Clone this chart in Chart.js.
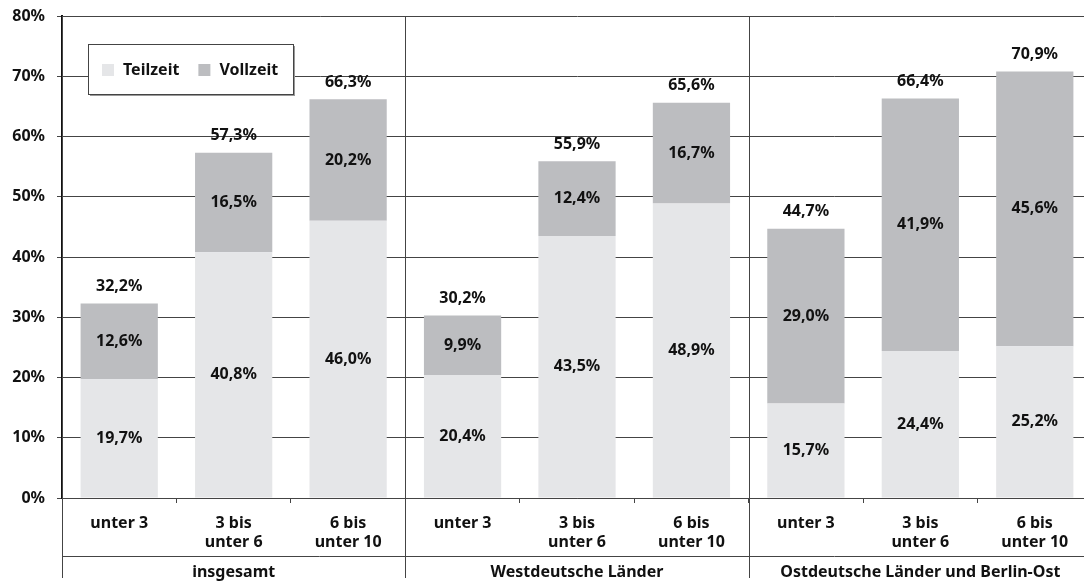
<!DOCTYPE html>
<html>
<head>
<meta charset="utf-8">
<script src="https://cdn.jsdelivr.net/npm/chart.js@4"></script>
<style>
  html, body { margin: 0; padding: 0; background: #fff; overflow: hidden; }
  #wrap { width: 1092px; height: 583px; }
</style>
</head>
<body>
<div id="wrap"><canvas id="chart-betreuung"></canvas></div>
<script>
const categories = [
  "unter 3", ["3 bis", "unter 6"], ["6 bis", "unter 10"],
  "unter 3", ["3 bis", "unter 6"], ["6 bis", "unter 10"],
  "unter 3", ["3 bis", "unter 6"], ["6 bis", "unter 10"],
];
const groups = ["insgesamt", "Westdeutsche Länder", "Ostdeutsche Länder und Berlin-Ost"];
const teilzeit = [19.7, 40.8, 46.0, 20.4, 43.5, 48.9, 15.7, 24.4, 25.2];
const vollzeit = [12.6, 16.5, 20.2, 9.9, 12.4, 16.7, 29.0, 41.9, 45.6];
const totals = [32.2, 57.3, 66.3, 30.2, 55.9, 65.6, 44.7, 66.4, 70.9];
const yTicks = [0, 10, 20, 30, 40, 50, 60, 70, 80];

const FONT = "'Noto Sans', sans-serif";
const FSIZE = 16;
const LINE = "#444";

function fmt(v) {
  return v.toFixed(1).replace(".", ",") + "%";
}

// value labels inside the segments and totals on top
const valueLabels = {
  id: "valueLabels",
  afterDatasetsDraw(chart) {
    const ctx = chart.ctx;
    ctx.save();
    ctx.font = "bold " + FSIZE + "px " + FONT;
    ctx.fillStyle = "#111";
    ctx.textAlign = "center";
    ctx.textBaseline = "middle";
    chart.data.datasets.forEach((ds, di) => {
      chart.getDatasetMeta(di).data.forEach((bar, i) => {
        ctx.fillText(fmt(ds.data[i]), bar.x, (bar.y + bar.base) / 2);
        if (di === chart.data.datasets.length - 1) {
          ctx.fillText(fmt(totals[i]), bar.x, bar.y - 17);
        }
      });
    });
    ctx.restore();
  },
};

// group separators, group names and the legend box
const groupFrame = {
  id: "groupFrame",
  afterDraw(chart) {
    const ctx = chart.ctx;
    const area = chart.chartArea;
    const x = chart.scales.x;
    const bottom = chart.height - 5;
    const lineY = area.bottom + 58;
    ctx.save();
    ctx.strokeStyle = LINE;
    ctx.lineWidth = 1;
    ctx.beginPath();
    ctx.moveTo(area.left, lineY + 0.5);
    ctx.lineTo(area.right, lineY + 0.5);
    ctx.moveTo(area.left + 0.5, area.top);
    ctx.lineTo(area.left + 0.5, bottom);
    for (let g = 1; g < groups.length; g++) {
      const bx = Math.round((x.getPixelForTick(g * 3 - 1) + x.getPixelForTick(g * 3)) / 2) + 0.5;
      ctx.moveTo(bx, area.top);
      ctx.lineTo(bx, bottom);
    }
    ctx.stroke();

    ctx.font = "bold " + FSIZE + "px " + FONT;
    ctx.fillStyle = "#111";
    ctx.textAlign = "center";
    ctx.textBaseline = "middle";
    groups.forEach((name, g) => {
      const cx = (x.getPixelForTick(g * 3) + x.getPixelForTick(g * 3 + 2)) / 2;
      ctx.fillText(name, cx, lineY + 16);
    });

    // legend
    const lx = 88, ly = 44, lw = 205, lh = 50;
    ctx.fillStyle = "#999";
    ctx.fillRect(lx + 2, ly + 2, lw, lh);
    ctx.fillStyle = "#fff";
    ctx.fillRect(lx, ly, lw, lh);
    ctx.strokeStyle = LINE;
    ctx.strokeRect(lx + 0.5, ly + 0.5, lw, lh);
    let cx = lx + 14;
    ctx.textAlign = "left";
    chart.data.datasets.forEach((ds) => {
      ctx.fillStyle = ds.backgroundColor;
      ctx.fillRect(cx, ly + 20, 12, 12);
      ctx.fillStyle = "#111";
      ctx.fillText(ds.label, cx + 21, ly + 26);
      cx += 21 + ctx.measureText(ds.label).width + 19;
    });
    ctx.restore();
  },
};

new Chart(document.getElementById("chart-betreuung"), {
  type: "bar",
  data: {
    labels: categories,
    datasets: [
      { label: "Teilzeit", data: teilzeit, backgroundColor: "#e5e6e8" },
      { label: "Vollzeit", data: vollzeit, backgroundColor: "#bcbdc0" },
    ],
  },
  options: {
    responsive: true,
    maintainAspectRatio: false,
    animation: false,
    layout: { padding: { top: 16, right: 0, left: 0, bottom: 0 } },
    plugins: {
      legend: { display: false },
      tooltip: { enabled: false },
    },
    datasets: { bar: { categoryPercentage: 1, barPercentage: 0.675 } },
    scales: {
      x: {
        stacked: true,
        afterFit: (s) => { s.height = 85; },
        grid: { drawOnChartArea: false, offset: true, tickLength: 5, color: LINE },
        border: { color: LINE },
        ticks: {
          color: "#111",
          font: { family: FONT, size: FSIZE, weight: "bold", lineHeight: 1.2 },
          padding: 11,
          maxRotation: 0,
        },
      },
      y: {
        stacked: true,
        min: 0,
        max: 80,
        afterFit: (s) => { s.width = 62; s.paddingTop = 0; s.paddingBottom = 0; },
        afterBuildTicks: (s) => { s.ticks = yTicks.map((v) => ({ value: v })); },
        grid: { color: LINE, tickLength: 5 },
        border: { color: "#111", width: 2 },
        ticks: {
          color: "#111",
          font: { family: FONT, size: FSIZE, weight: "bold" },
          padding: 12,
          callback: (v) => v + "%",
        },
      },
    },
  },
  plugins: [valueLabels, groupFrame],
});
</script>
</body>
</html>
